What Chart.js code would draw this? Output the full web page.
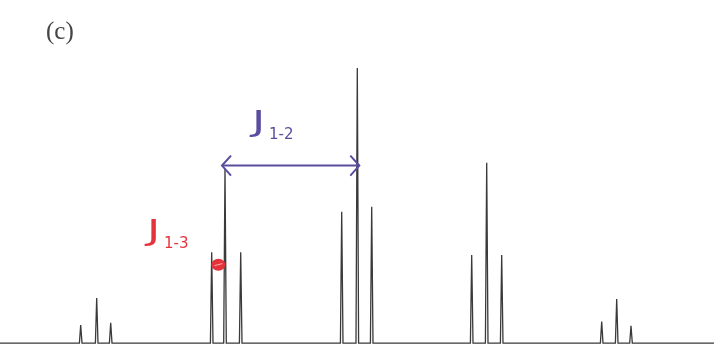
<!DOCTYPE html>
<html>
<head>
<meta charset="utf-8">
<script src="https://cdn.jsdelivr.net/npm/chart.js@4/dist/chart.umd.min.js"></script>
<style>
  html, body { margin: 0; padding: 0; background: #fff; }
  #wrap { width: 714px; height: 348px; }
</style>
</head>
<body>
<div id="wrap"><canvas id="spectrum" width="714" height="348"></canvas></div>
<script>
// peak positions (Hz, arbitrary origin) and relative intensities (tallest = 100)
const peakShifts = [80.7, 96.7, 110.7, 211.7, 225, 240.7, 341.7, 357.3, 371.7, 471.7, 486.7, 501.7, 601.7, 616.7, 631];
const peakHeights = [6.5, 16.4, 7.4, 33, 63.6, 33, 47.7, 100, 49.5, 32, 65.5, 32, 7.8, 16, 6.3];
const spectrumRange = [0, 714];
const halfWidth = 1.3;

// trace: flat baseline with a narrow line for every peak
let trace = [{ x: spectrumRange[0], y: 0 }];
for (let i = 0; i < peakShifts.length; i++) {
  trace.push({ x: peakShifts[i] - halfWidth, y: 0 });
  trace.push({ x: peakShifts[i], y: peakHeights[i] });
  trace.push({ x: peakShifts[i] + halfWidth, y: 0 });
}
trace.push({ x: spectrumRange[1], y: 0 });

const purple = '#5a4c9e';
const red = '#e5333b';

function arrowHead(ctx, x, y, dir) {
  ctx.beginPath();
  ctx.moveTo(x - dir * 9, y - 10);
  ctx.lineTo(x, y);
  ctx.lineTo(x - dir * 9, y + 10);
  ctx.stroke();
}

// scaled-up J with a subscript, written next to each splitting
function coupling(ctx, x, y, sub, color) {
  ctx.save();
  ctx.fillStyle = color;
  ctx.translate(x, y);
  ctx.scale(1.6, 1);
  ctx.font = '28px "DejaVu Sans"';
  ctx.fillText('J', 0, 0);
  ctx.restore();
  ctx.fillStyle = color;
  ctx.font = '15px "DejaVu Sans"';
  ctx.fillText(sub, x + 17, y + 8);
}

const notes = {
  id: 'notes',
  afterDraw(chart) {
    const ctx = chart.ctx;
    const xs = chart.scales.x;
    const ys = chart.scales.y;
    ctx.save();

    ctx.fillStyle = '#444';
    ctx.font = '25px "Liberation Serif"';
    ctx.textBaseline = 'alphabetic';
    ctx.fillText('(c)', 46, 39);

    // J1-2 between the centre line of the first and second multiplets
    const x1 = xs.getPixelForValue(peakShifts[4]) - 3;
    const x2 = xs.getPixelForValue(peakShifts[7]) + 2;
    const ya = ys.getPixelForValue(64.5);
    ctx.strokeStyle = purple;
    ctx.lineWidth = 2;
    ctx.beginPath();
    ctx.moveTo(x1, ya);
    ctx.lineTo(x2, ya);
    ctx.stroke();
    arrowHead(ctx, x1, ya, -1);
    arrowHead(ctx, x2, ya, 1);
    coupling(ctx, 252, 131, '1-2', purple);

    // J1-3 label and the mark on the small splitting
    coupling(ctx, 147, 240, '1-3', red);
    const xm = (xs.getPixelForValue(peakShifts[3]) + xs.getPixelForValue(peakShifts[4])) / 2;
    const ym = ys.getPixelForValue(28.5);
    ctx.fillStyle = red;
    ctx.beginPath();
    ctx.ellipse(xm, ym, 7, 6, 0, 0, Math.PI * 2);
    ctx.fill();
    ctx.strokeStyle = '#f6b0b0';
    ctx.lineWidth = 1;
    ctx.beginPath();
    ctx.moveTo(xm - 4, ym + 1);
    ctx.lineTo(xm + 4, ym - 1);
    ctx.stroke();

    ctx.restore();
  },
};

const ctx = document.getElementById('spectrum').getContext('2d');
const myChart = new Chart(ctx, {
  type: 'line',
  data: {
    datasets: [
      {
        data: trace,
        borderColor: '#3a3a3a',
        borderWidth: 1.3,
        pointRadius: 0,
        tension: 0,
        fill: false,
      },
    ],
  },
  options: {
    responsive: false,
    maintainAspectRatio: false,
    animation: false,
    layout: { padding: 0 },
    scales: {
      x: { type: 'linear', min: spectrumRange[0], max: spectrumRange[1], display: false },
      y: { min: -1.8, max: 124.7, display: false },
    },
    plugins: {
      legend: { display: false },
      tooltip: { enabled: false },
    },
  },
  plugins: [notes],
});
</script>
</body>
</html>
